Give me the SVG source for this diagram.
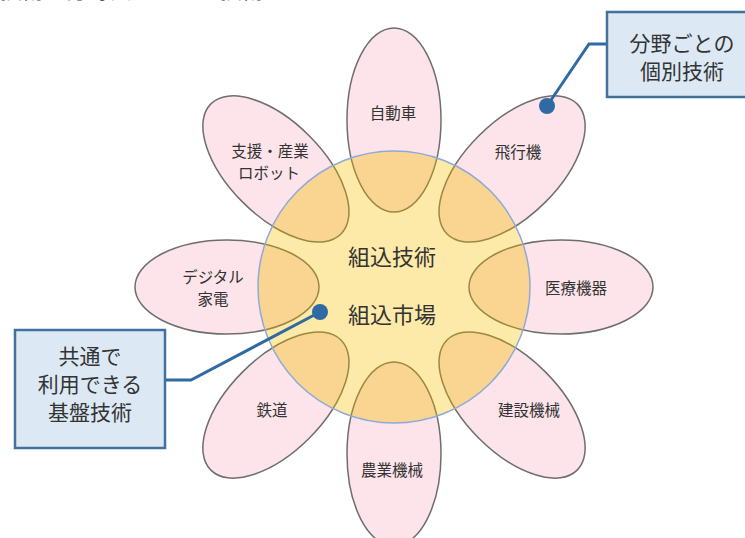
<svg xmlns="http://www.w3.org/2000/svg" xmlns:xlink="http://www.w3.org/1999/xlink" width="745" height="538" viewBox="0 0 745 538">
<style>
.t{font-family:"Noto Sans CJK JP","Noto Sans",sans-serif;fill:#333333;text-anchor:middle}
.pl{font-size:15.5px}
.ct{font-size:22px}
.bx{font-size:21px}
.petal{fill:#fce4ea;stroke:#6e6e6e;stroke-width:1.5}
.inner{fill:#fad592;stroke:#9a8840;stroke-width:1.5}
.box{fill:#dce9f5;stroke:#41719c;stroke-width:2.5}
.conn{fill:none;stroke:#2f6aa3;stroke-width:3}
.dot{fill:#2f6aa3}
</style>
<defs>
<ellipse id="pe" cx="394" cy="120" rx="47" ry="92"/>
<clipPath id="cc"><circle cx="394" cy="287" r="136"/></clipPath>
</defs>
<text class="t" x="0" y="-2" style="font-size:22px;text-anchor:start">技術は分野共通の基盤技術</text>
<g id="petals">
<use href="#pe" class="petal" transform="rotate(0 394 287)"/>
<use href="#pe" class="petal" transform="rotate(45 394 287)"/>
<use href="#pe" class="petal" transform="rotate(90 394 287)"/>
<use href="#pe" class="petal" transform="rotate(135 394 287)"/>
<use href="#pe" class="petal" transform="rotate(180 394 287)"/>
<use href="#pe" class="petal" transform="rotate(225 394 287)"/>
<use href="#pe" class="petal" transform="rotate(270 394 287)"/>
<use href="#pe" class="petal" transform="rotate(315 394 287)"/>
</g>
<g id="center">
<circle cx="394" cy="287" r="136" fill="#fde9a8"/>
<g clip-path="url(#cc)">
<use href="#pe" class="inner" transform="rotate(0 394 287)"/>
<use href="#pe" class="inner" transform="rotate(45 394 287)"/>
<use href="#pe" class="inner" transform="rotate(90 394 287)"/>
<use href="#pe" class="inner" transform="rotate(135 394 287)"/>
<use href="#pe" class="inner" transform="rotate(180 394 287)"/>
<use href="#pe" class="inner" transform="rotate(225 394 287)"/>
<use href="#pe" class="inner" transform="rotate(270 394 287)"/>
<use href="#pe" class="inner" transform="rotate(315 394 287)"/>
</g>
<circle cx="394" cy="287" r="136" fill="none" stroke="#8eaad6" stroke-width="1.5"/>
<text class="t ct" x="392" y="265">組込技術</text>
<text class="t ct" x="392" y="323">組込市場</text>
</g>
<g id="n-car"><text class="t pl" x="393" y="119">自動車</text></g>
<g id="n-plane"><text class="t pl" x="518" y="158">飛行機</text></g>
<g id="n-medical"><text class="t pl" x="576" y="294">医療機器</text></g>
<g id="n-construction"><text class="t pl" x="529" y="416">建設機械</text></g>
<g id="n-agri"><text class="t pl" x="392" y="476">農業機械</text></g>
<g id="n-rail"><text class="t pl" x="272" y="416">鉄道</text></g>
<g id="n-appliance"><text class="t pl" x="213" y="283">デジタル</text><text class="t pl" x="213" y="305">家電</text></g>
<g id="n-robot"><text class="t pl" x="270" y="157">支援・産業</text><text class="t pl" x="269" y="179">ロボット</text></g>
<g id="connectors">
<path class="conn" d="M607 44 H589 L547 106"/>
<circle class="dot" cx="547" cy="106" r="8"/>
<path class="conn" d="M165 380 H191 L320 312"/>
<circle class="dot" cx="320" cy="312" r="8"/>
</g>
<g id="callout-individual">
<rect class="box" x="607" y="12" width="150" height="85"/>
<text class="t bx" x="682" y="51">分野ごとの</text>
<text class="t bx" x="682" y="79">個別技術</text>
</g>
<g id="callout-common">
<rect class="box" x="15" y="330" width="150" height="118"/>
<text class="t bx" x="90" y="364">共通で</text>
<text class="t bx" x="90" y="392">利用できる</text>
<text class="t bx" x="90" y="420">基盤技術</text>
</g>
</svg>
